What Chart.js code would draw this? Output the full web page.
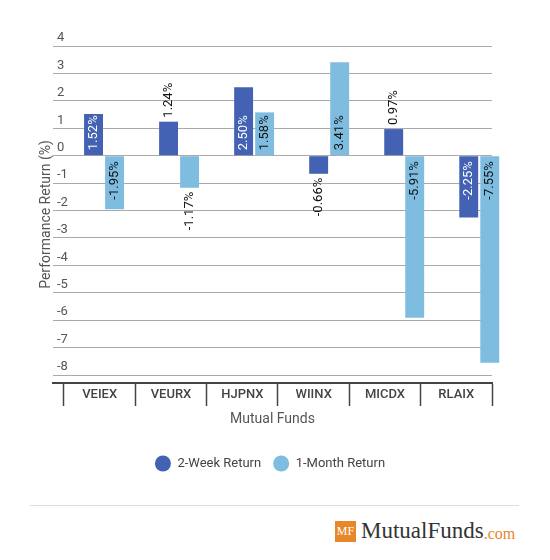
<!DOCTYPE html>
<html>
<head>
<meta charset="utf-8">
<script src="https://cdn.jsdelivr.net/npm/chart.js@4.4.0/dist/chart.umd.min.js"></script>
<style>
    body { margin: 0; background: #fff; font-family: Roboto, sans-serif; }
    #wrap { position: relative; width: 550px; height: 490px; }
    .sep { position: absolute; left: 30px; top: 505px; width: 489px; height: 1px; background: #ddd; }
    .logo { position: absolute; left: 335px; top: 518px; height: 26px; display: flex; align-items: center; }
    .logo .mf { background: #e8862a; color: #fff; font-family: "Liberation Serif", serif; font-size: 12px; width: 21px; height: 21px; line-height: 21px; text-align: center; margin-right: 5px; }
    .logo .name { font-family: "Liberation Serif", serif; font-size: 23px; color: #333; }
    .logo .com { font-family: "Liberation Serif", serif; font-size: 16px; color: #e8862a; margin-top: 5px; }
</style>
</head>
<body>
<div id="wrap"><canvas id="fundsChart" width="550" height="490"></canvas></div>
<div class="sep"></div>
<div class="logo"><span class="mf">MF</span><span class="name">MutualFunds</span><span class="com">.com</span></div>
<script>
const funds = ['VEIEX', 'VEURX', 'HJPNX', 'WIINX', 'MICDX', 'RLAIX'];
const twoWeek = [1.52, 1.24, 2.50, -0.66, 0.97, -2.25];
const oneMonth = [-1.95, -1.17, 1.58, 3.41, -5.91, -7.55];
const yTicks = [4, 3, 2, 1, 0, -1, -2, -3, -4, -5, -6, -7, -8];

const darkBlue = 'rgb(67, 98, 180)';
const lightBlue = 'rgb(127, 189, 224)';

// value labels, rotated, inside the bar when they fit
const barLabels = {
    id: 'barLabels',
    afterDatasetsDraw(chart) {
        const ctx = chart.ctx;
        ctx.save();
        ctx.font = '13px Roboto';
        ctx.textBaseline = 'middle';
        chart.data.datasets.forEach((ds, di) => {
            const meta = chart.getDatasetMeta(di);
            meta.data.forEach((bar, i) => {
                const v = ds.data[i].y;
                const text = v.toFixed(2) + '%';
                const w = ctx.measureText(text).width;
                const len = Math.abs(bar.base - bar.y);
                const inside = len >= w + 5;
                ctx.fillStyle = inside && di === 0 ? '#fff' : '#111';
                let pos;
                if (v >= 0) {
                    pos = inside ? bar.base - 5 : bar.y - 4;
                    ctx.textAlign = 'left';
                } else {
                    pos = inside ? bar.base + 5 : bar.y + 4;
                    ctx.textAlign = 'right';
                }
                ctx.save();
                ctx.translate(bar.x, pos);
                ctx.rotate(-Math.PI / 2);
                ctx.fillText(text, 0, 0);
                ctx.restore();
            });
        });
        ctx.restore();
    }
};

const ctx = document.getElementById('fundsChart').getContext('2d');
new Chart(ctx, {
    type: 'bar',
    data: {
        datasets: [{
            label: '2-Week Return',
            data: twoWeek.map((v, i) => ({ x: i, y: v })),
            backgroundColor: darkBlue,
            xAxisID: 'xb',
            clip: false
        }, {
            label: '1-Month Return',
            data: oneMonth.map((v, i) => ({ x: i, y: v })),
            backgroundColor: lightBlue,
            xAxisID: 'xb',
            clip: false
        }]
    },
    options: {
        responsive: false,
        animation: false,
        datasets: {
            bar: { categoryPercentage: 0.56, barPercentage: 0.9 }
        },
        layout: { padding: { top: 46, left: 0, right: 10, bottom: 10 } },
        plugins: {
            tooltip: { enabled: false },
            legend: {
                position: 'bottom',
                labels: {
                    usePointStyle: true,
                    pointStyle: 'circle',
                    pointStyleWidth: 16,
                    boxHeight: 11.3,
                    padding: 12,
                    color: '#444',
                    font: { family: 'Roboto', size: 13 }
                }
            }
        },
        scales: {
            xb: {
                type: 'linear',
                display: false,
                offset: false,
                grid: { offset: false },
                min: -0.68,
                max: 5.17,
                afterBuildTicks(scale) {
                    scale.ticks = funds.map((f, i) => ({ value: i }));
                }
            },
            x: {
                type: 'linear',
                position: 'bottom',
                offset: false,
                min: -0.654,
                max: 5.5,
                afterBuildTicks(scale) {
                    const t = [];
                    for (let i = -0.5; i <= 5.5; i += 0.5) t.push({ value: i });
                    scale.ticks = t;
                },
                afterFit(scale) {
                    scale.height = 62;
                },
                border: { display: true, color: '#444', width: 2 },
                grid: {
                    offset: false,
                    drawOnChartArea: false,
                    drawTicks: true,
                    tickLength: 23,
                    tickWidth: 1.5,
                    tickColor: c => (c.tick && Number.isInteger(c.tick.value)) ? 'rgba(0,0,0,0)' : '#444'
                },
                ticks: {
                    autoSkip: false,
                    maxRotation: 0,
                    padding: -19,
                    color: '#444',
                    font: { family: 'Roboto', size: 13, weight: '500' },
                    callback: v => Number.isInteger(v) ? funds[v] : ''
                },
                title: {
                    display: true,
                    text: 'Mutual Funds',
                    color: '#555',
                    padding: { top: 0, bottom: 17 },
                    font: { family: 'Roboto', size: 14 }
                }
            },
            y: {
                min: -8.29,
                max: 4,
                border: { display: false },
                grid: { color: '#aaa', lineWidth: 1, drawTicks: false },
                afterBuildTicks(scale) {
                    scale.ticks = yTicks.map(v => ({ value: v }));
                },
                afterFit(scale) {
                    scale.width = 53;
                },
                ticks: {
                    mirror: true,
                    padding: 4,
                    labelOffset: -8,
                    color: '#555',
                    font: { family: 'Roboto', size: 13 }
                },
                title: {
                    display: true,
                    text: 'Performance Return (%)',
                    color: '#555',
                    padding: { top: 38, bottom: 0 },
                    font: { family: 'Roboto', size: 14 }
                }
            },
            yr: {
                position: 'right',
                grid: { display: false },
                border: { display: false },
                ticks: { display: false },
                afterFit(scale) {
                    scale.width = 48;
                }
            }
        }
    },
    plugins: [barLabels]
});
</script>
</body>
</html>
